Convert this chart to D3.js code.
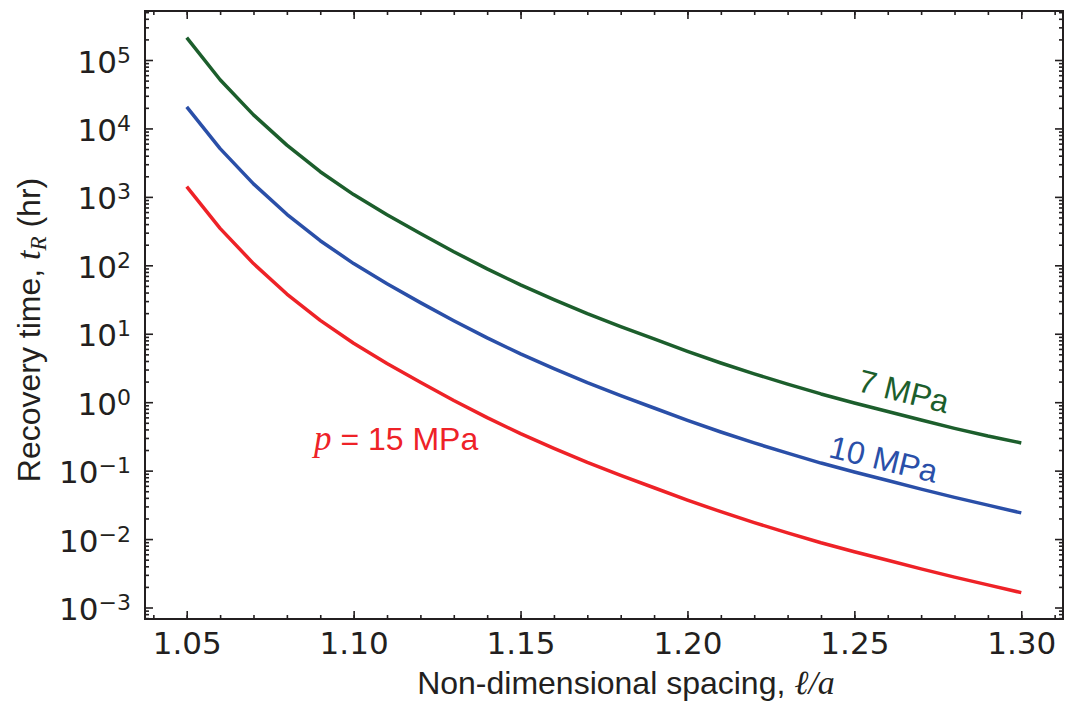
<!DOCTYPE html>
<html>
<head>
<meta charset="utf-8">
<script src="https://cdn.jsdelivr.net/npm/d3@7"></script>
<style>
  body { margin: 0; background: #fff; }
  svg { display: block; }
</style>
</head>
<body>
<div id="chart"></div>
<script>
// Data (recovery time in hours vs spacing l/a)
const spacing = [1.05, 1.06, 1.07, 1.08, 1.09, 1.10, 1.11, 1.12, 1.13, 1.14, 1.15, 1.16, 1.17,
                 1.18, 1.19, 1.20, 1.21, 1.22, 1.23, 1.24, 1.25, 1.26, 1.27, 1.28, 1.29, 1.30];
const time7MPa = [2.12e5, 5.15e4, 1.58e4, 5.7e3, 2.33e3, 1.08e3, 548, 291, 158, 88.7, 51.7, 31.5, 19.7,
                  12.7, 8.4, 5.54, 3.74, 2.59, 1.84, 1.32, 0.975, 0.73, 0.548, 0.415, 0.32, 0.254];
const time10MPa = [2.07e4, 5.07e3, 1.55e3, 556, 229, 106, 53.7, 28.5, 15.5, 8.7, 5.07, 3.09, 1.93,
                   1.245, 0.822, 0.543, 0.367, 0.254, 0.180, 0.129, 0.0955, 0.0716, 0.0537, 0.0407, 0.0313, 0.0241];
const time15MPa = [1.41e3, 347, 106, 38, 15.7, 7.25, 3.67, 1.95, 1.06, 0.595, 0.347, 0.211, 0.132,
                   0.0852, 0.0562, 0.0371, 0.0251, 0.0174, 0.0123, 0.00882, 0.00653, 0.0049, 0.00367, 0.00278, 0.00214, 0.00165];

const xTicks = [1.05, 1.10, 1.15, 1.20, 1.25, 1.30];
const yExponents = [-3, -2, -1, 0, 1, 2, 3, 4, 5];

// Set up dimensions and margins
const margin = { top: 11, right: 4, bottom: 91, left: 145 };
const width = 1067 - margin.left - margin.right;
const height = 710 - margin.top - margin.bottom;

const ink = "#231f20";
const tickFont = "'DejaVu Sans', sans-serif";
const labelFont = "'Liberation Sans', Arial, sans-serif";
const mathFont = "'Liberation Serif', 'DejaVu Serif', serif";

const svgContainer = d3.select("#chart")
    .append("svg")
    .attr("width", 1067)
    .attr("height", 710);

const svg = svgContainer.append("g")
    .attr("transform", `translate(${margin.left},${margin.top})`);

// Scales
const x = d3.scaleLinear()
    .domain([1.0375, 1.3125])
    .range([0, width]);

const y = d3.scaleLog()
    .domain([Math.pow(10, -3.168), Math.pow(10, 5.716)])
    .range([height, 0]);

// Minor tick positions
const xMinor = d3.range(104, 132).map(d => d / 100).filter(d => d >= 1.0375 && d <= 1.3125);
const yMinor = [];
for (let e = -4; e <= 5; e++) {
    for (let m = 2; m <= 9; m++) {
        const v = m * Math.pow(10, e);
        if (v >= y.domain()[0] && v <= y.domain()[1]) yMinor.push(v);
    }
}
const yMajor = yExponents.map(e => Math.pow(10, e));

function styleAxis(g) {
    g.select(".domain").remove();
    g.selectAll("line").attr("stroke", ink).attr("stroke-width", 1.6);
}

// Minor ticks, all four sides, pointing inward
svg.append("g").attr("transform", `translate(0,${height})`)
    .call(d3.axisBottom(x).tickValues(xMinor).tickSize(-4).tickFormat(""))
    .call(styleAxis);
svg.append("g")
    .call(d3.axisTop(x).tickValues(xMinor).tickSize(-4).tickFormat(""))
    .call(styleAxis);
svg.append("g")
    .call(d3.axisLeft(y).tickValues(yMinor).tickSize(-4).tickFormat(""))
    .call(styleAxis);
svg.append("g").attr("transform", `translate(${width},0)`)
    .call(d3.axisRight(y).tickValues(yMinor).tickSize(-4).tickFormat(""))
    .call(styleAxis);

// Major ticks
const xAxis = svg.append("g").attr("transform", `translate(0,${height})`)
    .call(d3.axisBottom(x).tickValues(xTicks).tickSize(-8).tickPadding(13).tickFormat(d3.format(".2f")))
    .call(styleAxis);
xAxis.selectAll("text")
    .attr("fill", ink)
    .style("font-family", tickFont)
    .style("font-size", "31px");

svg.append("g")
    .call(d3.axisTop(x).tickValues(xTicks).tickSize(-8).tickFormat(""))
    .call(styleAxis);
svg.append("g").attr("transform", `translate(${width},0)`)
    .call(d3.axisRight(y).tickValues(yMajor).tickSize(-8).tickFormat(""))
    .call(styleAxis);

const yAxis = svg.append("g")
    .call(d3.axisLeft(y).tickValues(yMajor).tickSize(-8).tickPadding(14).tickFormat(""))
    .call(styleAxis);

// Power-of-ten labels with superscripts
yAxis.selectAll(".tick").each(function(d) {
    const e = Math.round(Math.log10(d));
    const t = d3.select(this).select("text")
        .attr("x", -14)
        .attr("dy", "12px")
        .attr("fill", ink)
        .style("font-family", tickFont)
        .style("font-size", "31px")
        .attr("text-anchor", "end");
    t.append("tspan").text("10");
    t.append("tspan")
        .attr("dy", "-10px")
        .style("font-size", "22px")
        .text(e < 0 ? "\u2212" + Math.abs(e) : String(e));
});

// Frame
svg.append("rect")
    .attr("width", width)
    .attr("height", height)
    .attr("fill", "none")
    .attr("stroke", ink)
    .attr("stroke-width", 2);

// Curves
const series = [
    { values: time7MPa, color: "#1c5e2c" },
    { values: time10MPa, color: "#2a4fa8" },
    { values: time15MPa, color: "#ee2227" }
];

const line = d3.line()
    .x(d => x(d[0]))
    .y(d => y(d[1]));

svg.selectAll(".curve")
    .data(series)
    .enter()
    .append("path")
    .attr("class", "curve")
    .attr("d", s => line(spacing.map((v, i) => [v, s.values[i]])))
    .attr("fill", "none")
    .attr("stroke", s => s.color)
    .attr("stroke-width", 3.5)
    .attr("stroke-linejoin", "round");

// Curve annotations
svgContainer.append("text")
    .attr("transform", "translate(901,402) rotate(14)")
    .attr("text-anchor", "middle")
    .attr("fill", "#1c5e2c")
    .style("font-family", labelFont)
    .style("font-size", "32px")
    .text("7 MPa");

svgContainer.append("text")
    .attr("transform", "translate(881,470) rotate(13.6)")
    .attr("text-anchor", "middle")
    .attr("fill", "#2a4fa8")
    .style("font-family", labelFont)
    .style("font-size", "32px")
    .text("10 MPa");

const pLabel = svgContainer.append("text")
    .attr("x", 314)
    .attr("y", 450)
    .attr("fill", "#ee2227")
    .style("font-family", labelFont)
    .style("font-size", "32px");
pLabel.append("tspan").style("font-family", mathFont).style("font-style", "italic").style("font-size", "35px").text("p");
pLabel.append("tspan").text(" = 15 MPa");

// Axis titles
const xTitle = svgContainer.append("text")
    .attr("x", 626)
    .attr("y", 694)
    .attr("text-anchor", "middle")
    .attr("fill", ink)
    .style("font-family", labelFont)
    .style("font-size", "32px");
xTitle.append("tspan").text("Non-dimensional spacing, ");
xTitle.append("tspan").style("font-family", mathFont).style("font-style", "italic").style("font-size", "34px").text("\u2113/a");

const yTitle = svgContainer.append("text")
    .attr("transform", "translate(40,330) rotate(-90)")
    .attr("text-anchor", "middle")
    .attr("fill", ink)
    .style("font-family", labelFont)
    .style("font-size", "32px");
yTitle.append("tspan").text("Recovery time, ");
yTitle.append("tspan").style("font-family", mathFont).style("font-style", "italic").style("font-size", "34px").text("t");
yTitle.append("tspan").attr("dy", "6px").style("font-family", mathFont).style("font-style", "italic").style("font-size", "23px").text("R");
yTitle.append("tspan").attr("dy", "-6px").text(" (hr)");
</script>
</body>
</html>
